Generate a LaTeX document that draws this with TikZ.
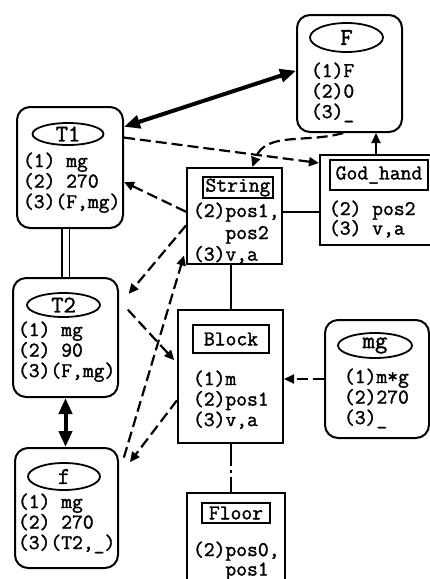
\documentclass[tikz,border=0pt]{standalone}
\usepackage{fontspec}
\setmonofont{Latin Modern Mono}[FakeBold=1.5]
\usetikzlibrary{arrows.meta, positioning, shapes.geometric}
\newcommand{\attrfont}{\fontsize{21}{20.5}\selectfont\ttfamily}
\tikzset{
  every picture/.style={line width=2pt},
  obj/.style={draw, rounded corners=13pt, line width=2pt},
  cls/.style={draw, line width=2pt},
  tag/.style={draw, ellipse, line width=1.8pt, inner sep=0pt, font=\fontsize{24}{24}\selectfont\ttfamily},
  title/.style={draw, line width=1.3pt, inner sep=0pt, font=\attrfont},
  attrs/.style={align=left, inner sep=0pt, anchor=north west, font=\attrfont},
  link/.style={-{Triangle[length=10pt, width=9pt]}, dash pattern=on 11pt off 5pt, line width=2.2pt},
  arr/.style={-{Triangle[length=10pt, width=9pt]}, line width=2pt},
  bond/.style={{Triangle[length=16pt, width=13pt]}-{Triangle[length=16pt, width=13pt]}, line width=4pt},
}

\begin{document}
\begin{tikzpicture}[x=1pt, y=-1pt]
  \clip (0,0) rectangle (430,579);

  % forces: rounded boxes with an ellipse tag
  \node[obj, minimum width=105pt, minimum height=117pt] (F) at (349.5,73.5) {};
  \node[tag, minimum width=73pt, minimum height=29pt] (F-tag) at (346.5,37.5) {F};
  \node[attrs] (F-attr) at (310,61.5) {(1)F\\(2)0\\(3)\_};

  \node[obj, minimum width=106pt, minimum height=121pt] (T1) at (70,167.5) {};
  \node[tag, minimum width=71pt, minimum height=22pt] (T1-tag) at (68,134) {T1};
  \node[attrs] (T1-attr) at (22,151.5) {(1) mg\\(2) 270\\(3)(F,mg)};

  \node[obj, minimum width=105pt, minimum height=119pt] (T2) at (65.5,337.5) {};
  \node[tag, minimum width=73pt, minimum height=24pt] (T2-tag) at (63.5,305) {T2};
  \node[attrs] (T2-attr) at (17,320.5) {(1) mg\\(2) 90\\(3)(F,mg)};

  \node[obj, minimum width=103pt, minimum height=120pt] (f) at (66.5,508) {};
  \node[tag, minimum width=72pt, minimum height=27pt] (f-tag) at (64,476.5) {f};
  \node[attrs] (f-attr) at (17,492.5) {(1) mg\\(2) 270\\(3)(T2,\_)};

  \node[obj, minimum width=104pt, minimum height=118pt] (mg) at (377,379) {};
  \node[tag, minimum width=74pt, minimum height=25pt] (mg-tag) at (375,345.5) {mg};
  \node[attrs] (mg-attr) at (343,367.5) {(1)m*g\\(2)270\\(3)\_};

  % bodies: square boxes with a framed title
  \node[cls, minimum width=95pt, minimum height=96pt] (str) at (234.5,216) {};
  \node[title, minimum width=70pt, minimum height=21pt] (str-title) at (238,187.5) {String};
  \node[attrs] (str-attr) at (192,201.5) {(2)pos1,\\[1.5pt]\phantom{(2)}pos2\\[1pt](3)v,a};

  \node[cls, minimum width=112pt, minimum height=90pt] (god) at (376,200) {};
  \node[title, minimum width=98pt, minimum height=30pt] (god-title) at (379,175) {God\_hand};
  \node[attrs] (god-attr) at (328,199.5) {(2) pos2\\[-1pt](3) v,a};

  \node[cls, minimum width=105pt, minimum height=133pt] (blk) at (230.5,376.5) {};
  \node[title, minimum width=76pt, minimum height=28pt] (blk-title) at (231,339) {Block};
  \node[attrs] (blk-attr) at (192,369.5) {(1)m\\(2)pos1\\(3)v,a};

  \node[cls, minimum width=98pt, minimum height=107pt] (flr) at (236,546.5) {};
  \node[title, minimum width=68pt, minimum height=20pt] (flr-title) at (236,513) {Floor};
  \node[attrs] (flr-attr) at (192,540.5) {(2)pos0,\\[-1pt]\phantom{(2)}pos1};

  % links
  \draw[bond] (T1.37) -- (F.177);
  \draw[bond] (T2.south) -- (T2.south |- f.north);
  \draw[double, double distance=6pt, line width=1.3pt] (T2.north |- T1.south) -- (T2.north);
  \draw[arr] (god.north) -- (god.north |- F.south);
  \draw[link] (F.264) to[out=196, in=70] (str.70);
  \draw[link] (T1.29) -- (god.147);
  \draw[link] (str.175) -- (T1.345);
  \draw[link, shorten >=15pt] (str.191) -- (T2.31);
  \draw[link, shorten <=13pt, shorten >=4pt] (T2.35) -- (blk.166);
  \draw[link, shorten <=17pt, shorten >=7pt] (f.33) -- (str.214);
  \draw[link, shorten >=18pt] (blk.204) -- (f.31);
  \draw[link] (mg.west) -- (mg.west -| blk.east);
  \draw (blk.north |- str.south) -- (blk.north);
  \draw ([yshift=4pt]str.east) -- ([yshift=4pt]str.east -| god.west);
  \draw[dash pattern=on 22pt off 4pt on 3pt off 4pt] (blk.south) -- (blk.south |- flr.north);
\end{tikzpicture}
\end{document}
